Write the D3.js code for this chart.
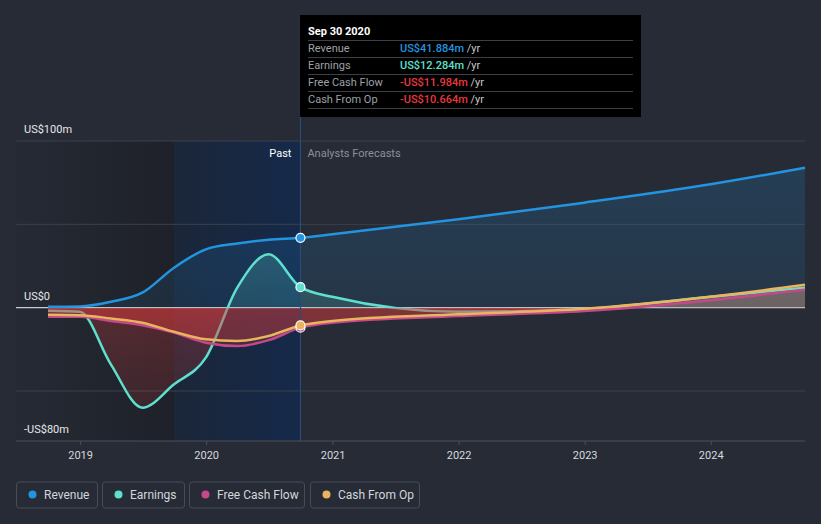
<!DOCTYPE html>
<html><head><meta charset="utf-8">
<script src="https://cdn.jsdelivr.net/npm/d3@7"></script>
<style>
html,body{margin:0;padding:0;background:#262b36;}
svg{display:block;font-family:Roboto,"Noto Sans",sans-serif;}
</style></head>
<body><svg id="c" width="821" height="524"></svg>
<script>
// ---- data ----
const dates = ["2018-09-30","2018-12-31","2019-03-31","2019-06-30","2019-09-30","2019-12-31","2020-03-31","2020-06-30","2020-09-30",
               "2020-12-31","2021-12-31","2022-12-31","2023-12-31","2024-09-30"];
const revenue  = [0.5, 0.7, 3.5, 9, 24, 35, 38.5, 40.8, 41.884, 44, 53, 63, 74, 84];
const earnings = [-1.8, -2.5, -34, -60, -46, -30, 12, 32, 12.284, 6.5, -2.5, -0.8, 6.5, 12];
const fcf      = [-5.5, -5.5, -8, -10.5, -15, -21, -23, -19.5, -11.984, -9, -5, -2, 4.5, 10.8];
const cfo      = [-4.3, -4.5, -6.5, -9, -14.5, -19, -20, -17, -10.664, -8, -4, -0.7, 6.5, 13.7];
const yTicks = [100, 0, -80];
const yTickLabels = ["US$100m", "US$0", "-US$80m"];
const gridVals = [100, 50, 0, -50];
const xTickYears = [2019, 2020, 2021, 2022, 2023, 2024];
const seriesNames = ["Revenue", "Earnings", "Free Cash Flow", "Cash From Op"];
const seriesColors = ["#2394df", "#5fe0cf", "#c4488a", "#e8b45f"];
const tooltipDate = "Sep 30 2020";
const tooltipValues = ["US$41.884m", "US$12.284m", "-US$11.984m", "-US$10.664m"];
const pastEnd = "2020-09-30";
const highlightStart = "2019-09-30";

const parse = d3.timeParse("%Y-%m-%d");
const D = dates.map(parse);
const svg = d3.select("#c");
const x = d3.scaleTime().domain([D[0], D[D.length-1]]).range([48, 805]);
const y = d3.scaleLinear().domain([-80, 100]).range([441, 141]);
const L = 16, R = 805;
const xPast = x(parse(pastEnd)), xHi = x(parse(highlightStart));

const defs = svg.append("defs");
const gDark = defs.append("linearGradient").attr("id","gDark").attr("x1","0").attr("x2","1");
gDark.append("stop").attr("offset","0").attr("stop-color","#252a34");
gDark.append("stop").attr("offset","1").attr("stop-color","#1e2129");
const gHi = defs.append("linearGradient").attr("id","gHi").attr("x1","0").attr("x2","1");
gHi.append("stop").attr("offset","0").attr("stop-color","#1b2638");
gHi.append("stop").attr("offset","1").attr("stop-color","#15294a");

svg.append("rect").attr("x",L).attr("y",141).attr("width",xHi-L).attr("height",300).attr("fill","url(#gDark)");
svg.append("rect").attr("x",xHi).attr("y",141).attr("width",xPast-xHi).attr("height",300).attr("fill","url(#gHi)");

svg.selectAll("line.grid").data(gridVals.filter(v=>v!==0)).join("line")
  .attr("x1",L).attr("x2",R).attr("y1",d=>y(d)).attr("y2",d=>y(d))
  .attr("stroke","#3a404c").attr("stroke-width",1);

const z0 = (y(0)-y(100))/(y(-80)-y(100));
function areaGrad(id, color, topOp, zeroOpPos){
  const g = defs.append("linearGradient").attr("id",id).attr("gradientUnits","userSpaceOnUse")
    .attr("x1",0).attr("x2",0).attr("y1",y(100)).attr("y2",y(-80));
  g.append("stop").attr("offset",0).attr("stop-color",color).attr("stop-opacity",topOp);
  g.append("stop").attr("offset",z0).attr("stop-color",color).attr("stop-opacity",zeroOpPos);
  g.append("stop").attr("offset",z0).attr("stop-color","#e03c3c").attr("stop-opacity",0.28);
  g.append("stop").attr("offset",1).attr("stop-color","#e03c3c").attr("stop-opacity",0.10);
}
areaGrad("aRev", seriesColors[0], 0.2, 0.1);
areaGrad("aEarn", seriesColors[1], 0.35, 0.15);
areaGrad("aFcf", seriesColors[2], 0.3, 0.2);
areaGrad("aCfo", seriesColors[3], 0.3, 0.2);

const curve = d3.curveMonotoneX;
const area = vals => d3.area().x((d,i)=>x(D[i])).y0(y(0)).y1(d=>y(d)).curve(curve)(vals);
const line = vals => d3.line().x((d,i)=>x(D[i])).y(d=>y(d)).curve(curve)(vals);

// zero line beneath fills
svg.append("line").attr("x1",L).attr("x2",R).attr("y1",y(0)).attr("y2",y(0))
  .attr("stroke","#c9ccd1").attr("stroke-width",1.2);

svg.append("path").attr("d",area(revenue)).attr("fill","url(#aRev)");
svg.append("path").attr("d",area(earnings)).attr("fill","url(#aEarn)");
svg.append("path").attr("d",line(revenue)).attr("fill","none").attr("stroke",seriesColors[0]).attr("stroke-width",2.5);
svg.append("path").attr("d",line(earnings)).attr("fill","none").attr("stroke",seriesColors[1]).attr("stroke-width",2.5);
svg.append("path").attr("d",area(fcf)).attr("fill","url(#aFcf)");
svg.append("path").attr("d",area(cfo)).attr("fill","url(#aCfo)");

svg.append("path").attr("d",line(fcf)).attr("fill","none").attr("stroke",seriesColors[2]).attr("stroke-width",2.5);
svg.append("path").attr("d",line(cfo)).attr("fill","none").attr("stroke",seriesColors[3]).attr("stroke-width",2.5);

svg.append("line").attr("x1",xPast).attr("x2",xPast).attr("y1",15).attr("y2",441)
  .attr("stroke","#2c4c78").attr("stroke-width",1.2);

const iP = dates.indexOf(pastEnd);
[[fcf,2],[cfo,3],[earnings,1],[revenue,0]].forEach(([vals,k])=>{
  svg.append("circle").attr("cx",x(D[iP])).attr("cy",y(vals[iP])).attr("r",4.5)
    .attr("fill",seriesColors[k]).attr("stroke","#ffffff").attr("stroke-width",1.2);
});

const xa = svg.append("g").attr("transform","translate(0,441)");
xa.append("line").attr("x1",L).attr("x2",R).attr("stroke","#4a505c").attr("stroke-width",1);
const xAxis = d3.axisBottom(x).tickValues(xTickYears.map(yr=>new Date(yr,0,1))).tickFormat(d3.timeFormat("%Y")).tickSize(4).tickPadding(6);
const ga = svg.append("g").attr("transform","translate(0,441)").call(xAxis);
ga.select(".domain").remove();
ga.selectAll(".tick line").attr("stroke","#4a505c");
ga.selectAll(".tick text").attr("fill","#d6d9de").attr("font-size",11).attr("font-family","Roboto,sans-serif");

svg.selectAll("text.yl").data(yTicks).join("text")
  .attr("x",24).attr("y",d=>y(d)-8).text((d,i)=>yTickLabels[i])
  .attr("fill","#e6e8eb").attr("font-size",11);

svg.append("text").attr("x",xPast-9).attr("y",157).attr("text-anchor","end").text("Past")
  .attr("fill","#ffffff").attr("font-size",11);
svg.append("text").attr("x",xPast+7).attr("y",157).text("Analysts Forecasts")
  .attr("fill","#8b919a").attr("font-size",11);

const tt = svg.append("g");
tt.append("rect").attr("x",300).attr("y",15).attr("width",341).attr("height",102).attr("fill","#000000");
tt.append("text").attr("x",308).attr("y",35).text(tooltipDate).attr("fill","#ffffff").attr("font-size",11).attr("font-weight","bold");
const sepY = [40, 57, 74, 91, 108];
sepY.forEach(v=>tt.append("line").attr("x1",308).attr("x2",633).attr("y1",v+0.5).attr("y2",v+0.5).attr("stroke","#3c3f44"));
seriesNames.forEach((n,i)=>{
  const by = 52 + i*17;
  tt.append("text").attr("x",308).attr("y",by).text(n).attr("fill","#9da1a8").attr("font-size",11);
  const neg = tooltipValues[i].startsWith("-");
  const t = tt.append("text").attr("x",400).attr("y",by).attr("font-size",11);
  t.append("tspan").text(tooltipValues[i]).attr("font-weight",500).attr("fill", neg ? "#e8393e" : seriesColors[i]);
  t.append("tspan").text(" /yr").attr("fill","#c6c8cc");
});

const legX = [16, 102, 189, 310];
const legW = [81, 82, 115, 109];
seriesNames.forEach((n,i)=>{
  const g = svg.append("g").attr("transform",`translate(${legX[i]},481.5)`);
  g.append("rect").attr("x",0.5).attr("y",0.5).attr("width",legW[i]).attr("height",26).attr("rx",3)
    .attr("fill","none").attr("stroke","#474d58");
  g.append("circle").attr("cx",16.5).attr("cy",13).attr("r",4).attr("fill",seriesColors[i]);
  g.append("text").attr("x",28).attr("y",17).text(n).attr("fill","#d3d6db").attr("font-size",12);
});
</script></body></html>
